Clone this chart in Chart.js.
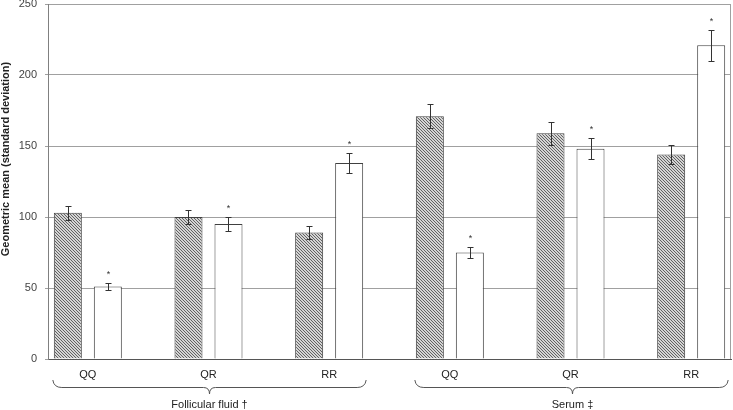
<!DOCTYPE html>
<html>
<head>
<meta charset="utf-8">
<script src="https://cdn.jsdelivr.net/npm/chart.js@4.4.0/dist/chart.umd.min.js"></script>
<style>
  html, body { margin: 0; padding: 0; background: #fff; }
  #wrap { width: 733px; height: 410px; }
</style>
</head>
<body>
<div id="wrap"><canvas id="chart" width="733" height="410"></canvas></div>
<script>
// Datos
const genotypes = ["QQ", "QR", "RR", "QQ", "QR", "RR"];
const groups = ["Follicular fluid †", "Serum ‡"];
const hatchedMeans = [103, 100, 89, 171, 159, 144];
const hatchedSD = [5, 5, 4.5, 8.5, 8, 7];
const whiteMeans = [51, 95, 138, 75, 148, 221];
const whiteSD = [2.7, 5, 7, 4, 7.5, 11];
const starred = [true, true, true, true, true, true];
const yTicks = [0, 50, 100, 150, 200, 250];
const yTitle = "Geometric mean (standard deviation)";

const FONT = "Arial, 'Liberation Sans', sans-serif";

// Trama diagonal para las barras grises
function makeHatch() {
  const c = document.createElement("canvas");
  c.width = 3;
  c.height = 3;
  const g = c.getContext("2d");
  g.fillStyle = "#d4d4d4";
  g.fillRect(0, 0, 3, 3);
  g.fillStyle = "#626262";
  for (let i = 0; i < 3; i++) {
    g.fillRect(i, i, 1, 1);
  }
  return g.createPattern(c, "repeat");
}

// Barras de error, asteriscos, llaves y título del eje
const extras = {
  id: "extras",
  beforeDatasetsDraw(chart) {
    const { ctx, chartArea } = chart;
    ctx.save();
    ctx.strokeStyle = "#a0a0a0";
    ctx.lineWidth = 1;
    ctx.beginPath();
    ctx.moveTo(chartArea.right - 0.5, chartArea.top);
    ctx.lineTo(chartArea.right - 0.5, chartArea.bottom);
    ctx.stroke();
    ctx.restore();
  },
  afterDatasetsDraw(chart) {
    const { ctx, chartArea } = chart;
    const y = chart.scales.y;
    const sets = [
      [hatchedMeans, hatchedSD, null],
      [whiteMeans, whiteSD, starred],
    ];
    ctx.save();
    ctx.strokeStyle = "#333";
    ctx.lineWidth = 1;
    sets.forEach((s, d) => {
      const meta = chart.getDatasetMeta(d);
      meta.data.forEach((bar, i) => {
        const x = Math.round(bar.x) + 0.5;
        const top = Math.round(y.getPixelForValue(s[0][i] + s[1][i])) + 0.5;
        const bot = Math.round(y.getPixelForValue(s[0][i] - s[1][i])) + 0.5;
        ctx.beginPath();
        ctx.moveTo(x, top);
        ctx.lineTo(x, bot);
        ctx.moveTo(x - 3, top);
        ctx.lineTo(x + 3, top);
        ctx.moveTo(x - 3, bot);
        ctx.lineTo(x + 3, bot);
        ctx.stroke();
        if (s[2] && s[2][i]) {
          ctx.fillStyle = "#333";
          ctx.font = "9px " + FONT;
          ctx.textAlign = "center";
          ctx.textBaseline = "middle";
          ctx.fillText("*", x, top - 9);
        }
      });
    });

    // Llaves de grupo
    const m0 = chart.getDatasetMeta(0);
    const m1 = chart.getDatasetMeta(1);
    const b = chartArea.bottom;
    const y0 = b + 21, y1 = b + 28.5, yTip = b + 35;
    groups.forEach((name, g) => {
      const first = m0.data[g * 3];
      const last = m1.data[g * 3 + 2];
      const L = first.x - first.width / 2 - 1;
      const R = last.x + last.width / 2 + 3;
      const M = Math.round((L + R) / 2) + 0.5;
      ctx.strokeStyle = "#555";
      ctx.beginPath();
      ctx.moveTo(L, y0);
      ctx.quadraticCurveTo(L + 1, y1, L + 9, y1);
      ctx.lineTo(M - 6, y1);
      ctx.quadraticCurveTo(M, y1, M, yTip);
      ctx.quadraticCurveTo(M, y1, M + 6, y1);
      ctx.lineTo(R - 9, y1);
      ctx.quadraticCurveTo(R - 1, y1, R, y0);
      ctx.stroke();
      ctx.fillStyle = "#222";
      ctx.font = "11px " + FONT;
      ctx.textAlign = "center";
      ctx.textBaseline = "middle";
      ctx.fillText(name, M, b + 46);
    });

    // Título del eje Y
    ctx.translate(6, 159);
    ctx.rotate(-Math.PI / 2);
    ctx.font = "bold 11px " + FONT;
    ctx.fillStyle = "#222";
    ctx.textAlign = "center";
    ctx.textBaseline = "middle";
    ctx.fillText(yTitle, 0, 0);
    ctx.restore();
  },
};

const hatch = makeHatch();
const ctx = document.getElementById("chart").getContext("2d");

new Chart(ctx, {
  type: "bar",
  data: {
    datasets: [
      {
        label: "hatched",
        data: hatchedMeans.map((v, i) => ({ x: i, y: v })),
        backgroundColor: hatch,
        borderColor: "#404040",
        borderWidth: 1,
      },
      {
        label: "white",
        data: whiteMeans.map((v, i) => ({ x: i, y: v })),
        backgroundColor: "#ffffff",
        borderColor: "#404040",
        borderWidth: 1,
      },
    ],
  },
  options: {
    responsive: false,
    animation: false,
    devicePixelRatio: 1,
    categoryPercentage: 0.663,
    barPercentage: 0.7,
    layout: { padding: { top: 4, right: 2, bottom: 0, left: 0 } },
    plugins: {
      legend: { display: false },
      tooltip: { enabled: false },
    },
    scales: {
      x: {
        type: "linear",
        min: -0.33,
        max: 5.33,
        offset: false,
        grid: { display: false, drawTicks: false },
        border: { display: true, color: "#555" },
        afterBuildTicks: (scale) => {
          scale.ticks = genotypes.map((g, i) => ({ value: i }));
        },
        afterFit: (scale) => {
          scale.height = 51;
          scale.paddingLeft = 0;
          scale.paddingRight = 0;
        },
        ticks: {
          padding: 9,
          maxRotation: 0,
          autoSkip: false,
          color: "#222",
          font: { family: FONT, size: 11 },
          callback: (value, index) => genotypes[index],
        },
      },
      y: {
        min: 0,
        max: 250,
        afterBuildTicks: (scale) => {
          scale.ticks = yTicks.map((v) => ({ value: v }));
        },
        afterFit: (scale) => {
          scale.width = 48;
          scale.paddingTop = 0;
          scale.paddingBottom = 0;
        },
        grid: { color: "#a0a0a0", tickLength: 3 },
        border: { display: true, color: "#808080" },
        ticks: {
          padding: 8,
          color: "#444",
          font: { family: FONT, size: 11 },
        },
      },
    },
  },
  plugins: [extras],
});
</script>
</body>
</html>
